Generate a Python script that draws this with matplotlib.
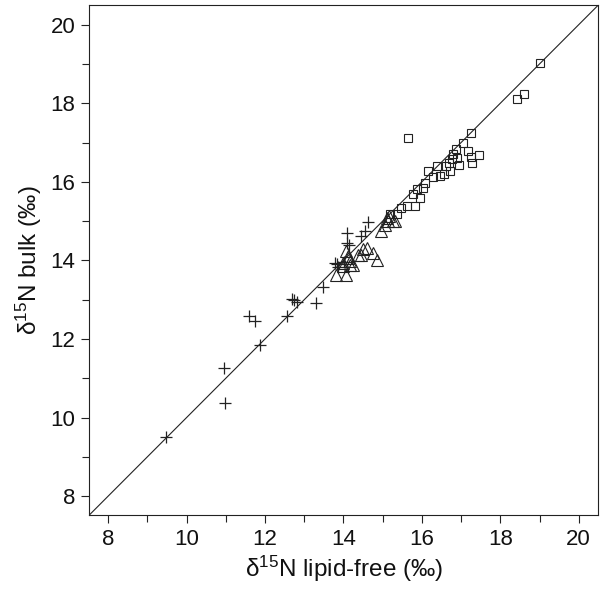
import matplotlib
matplotlib.use("Agg")
import matplotlib.pyplot as plt
from matplotlib.ticker import MultipleLocator

plt.rcParams['font.family'] = ['Liberation Sans', 'DejaVu Sans']
plt.rcParams['mathtext.fontset'] = 'custom'
plt.rcParams['mathtext.rm'] = 'Liberation Sans'
plt.rcParams['mathtext.it'] = 'Liberation Sans:italic'

# values (lipid-free, bulk)
plus_x = [9.47, 10.95, 10.99, 11.60, 11.74, 11.87, 12.57, 12.69, 12.75, 12.81, 13.30,
          13.47, 13.83, 13.87, 14.08, 14.08, 14.13, 14.46, 14.55, 14.63, 13.78, 14.01]
plus_y = [9.51, 11.26, 10.38, 12.59, 12.45, 11.85, 12.59, 13.02, 12.99, 12.93, 12.91,
          13.32, 13.91, 13.82, 14.70, 14.45, 14.40, 14.61, 14.74, 14.98, 13.94, 13.97]

tri_x = [15.17, 15.14, 15.31, 14.96, 14.06, 14.46, 14.59, 14.76, 14.86, 14.16, 13.82,
         14.06, 13.98, 15.10, 15.27, 14.49, 14.36, 14.11, 14.24, 13.99, 14.12, 14.17, 15.05]
tri_y = [15.13, 15.00, 15.00, 14.74, 14.23, 14.15, 14.32, 14.19, 14.02, 13.89, 13.64,
         13.64, 13.94, 15.08, 15.00, 14.28, 14.15, 14.06, 13.89, 13.85, 14.10, 13.98, 14.91]

sq_x = [19.01, 18.43, 18.60, 15.65, 17.24, 17.04, 16.86, 17.17, 17.46, 17.25, 17.27,
        16.95, 16.76, 16.70, 16.61, 16.72, 16.57, 16.38, 16.15, 16.46, 16.28, 16.08,
        16.04, 15.87, 15.78, 15.95, 15.82, 15.61, 15.48, 15.36, 15.19, 16.90, 16.80]
sq_y = [19.02, 18.10, 18.24, 17.11, 17.23, 16.98, 16.83, 16.78, 16.68, 16.64, 16.49,
        16.44, 16.57, 16.49, 16.40, 16.27, 16.19, 16.40, 16.27, 16.16, 16.13, 15.98,
        15.85, 15.81, 15.68, 15.59, 15.38, 15.38, 15.34, 15.17, 15.17, 16.60, 16.70]

lims = [7.52, 20.5]
ink = '#222222'

fig = plt.figure(figsize=(6.01, 5.90), dpi=100)
ax = fig.add_axes([0.1486, 0.1271, 0.847, 0.8644])

ax.plot(lims, lims, color=ink, lw=0.8)
ax.plot(plus_x, plus_y, ls='none', marker='+', ms=9, mew=0.9, color=ink)
ax.plot(tri_x, tri_y, ls='none', marker='^', ms=8, mew=0.8, mfc='none', mec=ink)
ax.plot(sq_x, sq_y, ls='none', marker='s', ms=6, mew=0.8, mfc='none', mec=ink)

ax.set_xlim(lims)
ax.set_ylim(lims)
ax.xaxis.set_major_locator(MultipleLocator(2))
ax.xaxis.set_minor_locator(MultipleLocator(1))
ax.yaxis.set_major_locator(MultipleLocator(2))
ax.yaxis.set_minor_locator(MultipleLocator(1))
ax.tick_params(which='major', direction='out', length=6, width=0.8, color=ink,
               labelsize=16, pad=4, labelcolor='#111111')
ax.tick_params(which='minor', direction='out', length=5, width=0.8, color=ink)
for s in ax.spines.values():
    s.set_linewidth(0.8)
    s.set_color(ink)

ax.set_xlabel(r'$\mathrm{\delta^{15}}$N lipid-free (‰)', fontsize=17.5, labelpad=3,
              color='#111111')
ax.set_ylabel(r'$\mathrm{\delta^{15}}$N bulk (‰)', fontsize=17.5, labelpad=5,
              color='#111111')

fig.savefig('out.png', dpi=100)
